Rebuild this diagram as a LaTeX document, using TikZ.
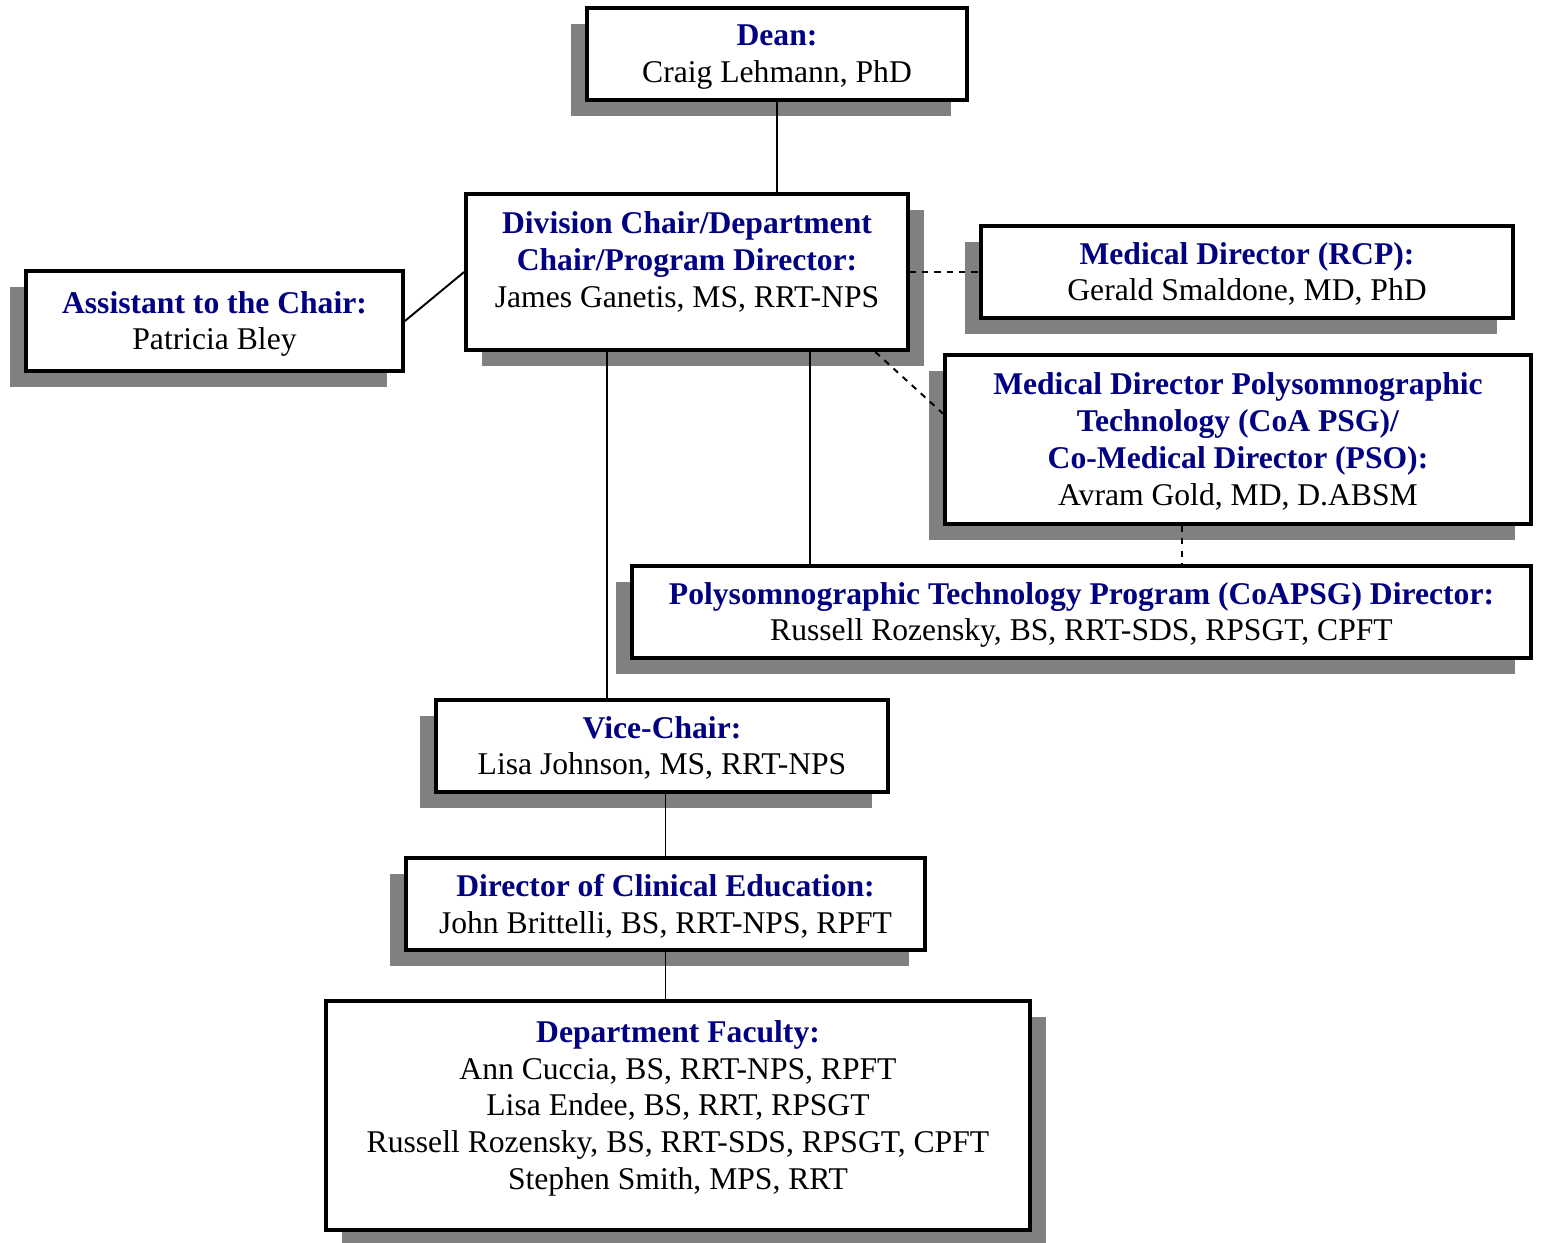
\documentclass[tikz,border=0pt]{standalone}
\usepackage{fontspec}
\setmainfont{Liberation Serif}
\usetikzlibrary{shadows}
\definecolor{titleblue}{RGB}{0,0,128}
\definecolor{shadowgray}{RGB}{128,128,128}
\newcommand{\ttl}[1]{\textcolor{titleblue}{\textbf{#1}}}

\begin{document}
\begin{tikzpicture}[x=0.02cm,y=-0.02cm]
\tikzstyle{every node}+=[font=\fontsize{18}{21}\selectfont]
\tikzstyle{box}=[draw, line width=2.2pt, fill=white, align=center, inner sep=0pt, text depth=0.5pt]
\tikzstyle{shadowleft}=[general shadow={fill=shadowgray, shadow xshift=-0.32cm, shadow yshift=-0.32cm}]
\tikzstyle{shadowright}=[general shadow={fill=shadowgray, shadow xshift=0.32cm, shadow yshift=-0.32cm}]
\tikzstyle{link}=[line width=1.1pt]
\tikzstyle{dashlink}=[line width=1.1pt, dash pattern=on 3.5pt off 3.5pt]

\useasboundingbox (0,0) rectangle (1541,1242);

\node [box, shadowleft, minimum width=7.6cm, minimum height=1.84cm] (dean) at (777,54) {\ttl{Dean:}\\Craig Lehmann, PhD};
\node [box, shadowright, minimum width=8.84cm, minimum height=3.12cm, text depth=14pt] (chair) at (687,272) {\ttl{Division Chair/Department}\\\ttl{Chair/Program Director:}\\James Ganetis, MS, RRT-NPS};
\node [box, shadowleft, minimum width=7.54cm, minimum height=2cm] (asst) at (214.5,321) {\ttl{Assistant to the Chair:}\\Patricia Bley};
\node [box, shadowleft, minimum width=10.64cm, minimum height=1.84cm] (rcp) at (1247,272) {\ttl{Medical Director (RCP):}\\Gerald Smaldone, MD, PhD};
\node [box, shadowleft, minimum width=11.72cm, minimum height=3.38cm] (psg) at (1238,439.5) {\ttl{Medical Director Polysomnographic}\\\ttl{Technology (CoA PSG)/}\\\ttl{Co-Medical Director (PSO):}\\Avram Gold, MD, D.ABSM};
\node [box, shadowleft, minimum width=17.98cm, minimum height=1.84cm] (prog) at (1081.5,612) {\ttl{Polysomnographic Technology Program (CoAPSG) Director:}\\Russell Rozensky, BS, RRT-SDS, RPSGT, CPFT};
\node [box, shadowleft, minimum width=9.04cm, minimum height=1.84cm] (vice) at (662,746) {\ttl{Vice-Chair:}\\Lisa Johnson, MS, RRT-NPS};
\node [box, shadowleft, minimum width=10.38cm, minimum height=1.84cm] (dce) at (665.5,904) {\ttl{Director of Clinical Education:}\\John Brittelli, BS, RRT-NPS, RPFT};
\node [box, shadowright, minimum width=14.08cm, minimum height=4.58cm, text depth=12pt] (fac) at (678,1115.5) {\ttl{Department Faculty:}\\Ann Cuccia, BS, RRT-NPS, RPFT\\Lisa Endee, BS, RRT, RPSGT\\Russell Rozensky, BS, RRT-SDS, RPSGT, CPFT\\Stephen Smith, MPS, RRT};

\draw [link] (dean.south) -- (dean.south |- chair.north);
\draw [link] (asst.east) -- (chair.west);
\draw [dashlink] (chair.east) -- (rcp.west);
\draw [dashlink] (chair.-23) -- (psg.175);
\draw [link] (chair.-33.5) -- (chair.-33.5 |- prog.north);
\draw [link] (chair.-135.7) -- (chair.-135.7 |- vice.north);
\draw [dashlink] (psg.-123.8) -- (psg.-123.8 |- prog.north);
\draw [link] (dce.north |- vice.south) -- (dce.north);
\draw [link] (dce.south) -- (dce.south |- fac.north);
\end{tikzpicture}
\end{document}
